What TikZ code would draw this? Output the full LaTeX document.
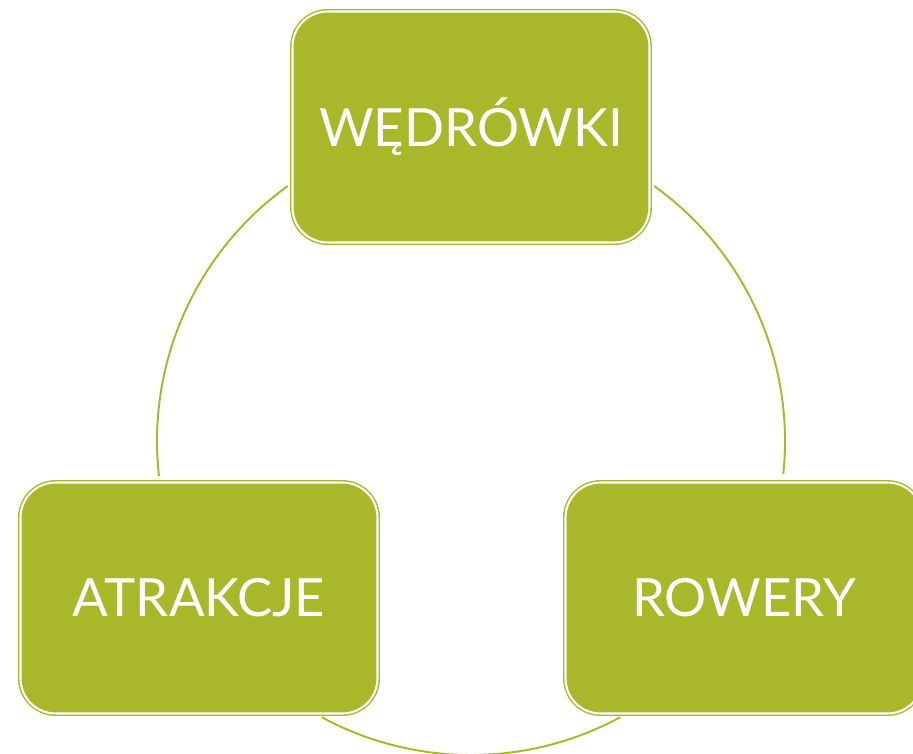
\documentclass[tikz,border=0pt]{standalone}
\usepackage{fontspec}
\setmainfont{Lato}
\definecolor{verde}{HTML}{A8B82A}
\begin{document}
\begin{tikzpicture}[x=0.02cm, y=0.02cm,
    caja/.style={draw=verde, line width=0.8pt, double=white, double distance=1.2pt,
      fill=verde, rounded corners=0.7cm, minimum width=7.14cm, minimum height=4.62cm,
      text=white, font=\fontsize{30}{36}\selectfont},
    arco/.style={draw=verde, line width=1.1pt}]

    % Marco
    \clip (0, 0) rectangle (913, -754);

    % Centro del ciclo
    \coordinate (centro) at (471, -441);

    % Arcos del ciclo
    \draw[arco] ([shift={(125.7:314)}]centro) arc[start angle=125.7, end angle=186.4, radius=314];
    \draw[arco] ([shift={(54.3:314)}]centro) arc[start angle=54.3, end angle=-6, radius=314];
    \draw[arco] ([shift={(241.6:314)}]centro) arc[start angle=241.6, end angle=298.4, radius=314];

    % Cajas
    \node[caja] (wedrowki) at (471, -127) {WĘDRÓWKI};
    \node[caja] (atrakcje) at (199, -598) {ATRAKCJE};
    \node[caja] (rowery) at (744, -598) {ROWERY};

  \end{tikzpicture}
\end{document}
